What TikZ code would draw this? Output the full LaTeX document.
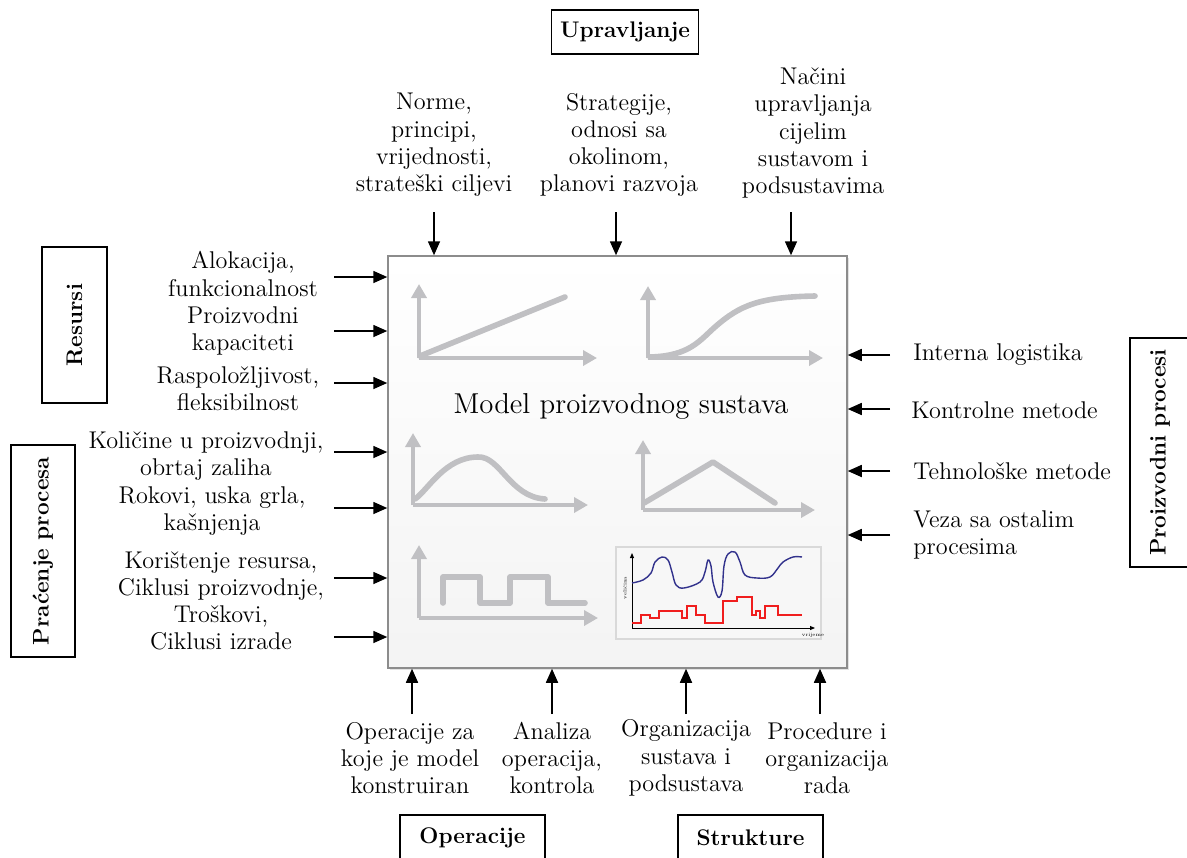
\documentclass[tikz,border=0pt]{standalone}
\usepackage{tikz}
\usetikzlibrary{arrows.meta,positioning,shadows}

\definecolor{chartgray}{RGB}{192,192,195}
\definecolor{frameline}{RGB}{140,140,140}
\definecolor{bluecurve}{RGB}{50,50,140}
\definecolor{redstep}{RGB}{240,30,30}

\tikzset{
	lbl/.style={font=\fontsize{12.1}{13.6}\selectfont, align=center, inner sep=0pt},
	rlbl/.style={font=\fontsize{12.1}{13.6}\selectfont, align=left, anchor=west, inner sep=0pt},
	headbox/.style={draw, line width=0.7pt, inner sep=0pt, font=\fontsize{11.3}{13}\bfseries\selectfont},
	modelbox/.style={draw=frameline, line width=0.75pt, top color=white, bottom color=gray!9,
		minimum width=229.5pt, minimum height=206pt, drop shadow={shadow xshift=1pt, shadow yshift=-1pt, fill=gray!45}},
	flow/.style={line width=0.8pt, -{Triangle[length=7pt,width=6pt]}},
	axis/.style={chartgray, line width=2.1pt, -{Triangle[length=7pt,width=7.5pt]}},
	curve/.style={chartgray, line width=2.8pt, line cap=round, line join=round},
	smallaxis/.style={black, line width=0.45pt, -{Triangle[length=2.5pt,width=2pt]}}
}

\begin{document}
\begin{tikzpicture}[x=0.5pt,y=-0.5pt]
	\useasboundingbox (0,0) rectangle (1187,857);
	\clip (0,0) rectangle (1187,857);

	% main model box
	\node[modelbox] (model) at (617.5,462) {};
	\node[font=\fontsize{14.4}{17}\selectfont, inner sep=0pt] (title) at (621,406) {Model proizvodnog sustava};

	% charts inside the box
	\draw[axis] (419,358) -- (419,284);
	\draw[axis] (419,358) -- (597,358);
	\draw[curve] (420,356) -- (565,297);

	\draw[axis] (648,358) -- (648,286);
	\draw[axis] (648,358) -- (823,358);
	\draw[curve] (650,357) .. controls (690,356) and (700,340) .. (715,327) .. controls (740,305) and (760,297) .. (815,296);

	\draw[axis] (413,505) -- (413,433);
	\draw[axis] (413,505) -- (588,505);
	\draw[curve] (415,499) .. controls (428,490) and (445,457) .. (478,457) .. controls (500,456) and (510,497) .. (545,499);

	\draw[axis] (643,510) -- (643,440);
	\draw[axis] (643,510) -- (815,510);
	\draw[curve] (644,503) -- (713,462) -- (775,503);

	\draw[axis] (419,618) -- (419,545);
	\draw[axis] (419,618) -- (598,618);
	\draw[curve] (443,603) -- (443,577) -- (480,577) -- (480,603) -- (510,603) -- (510,577) -- (548,577) -- (548,603) -- (585,603);

	% small time chart
	\draw[draw=gray!30, fill=gray!6, line width=1pt] (616,547) rectangle (821,639);
	\draw[smallaxis] (632,628) -- (632,553);
	\draw[smallaxis] (632,628) -- (815,628);
	\node[font=\fontsize{2.5}{3}\selectfont, rotate=90, inner sep=0pt] (ylab) at (625,588) {veličina};
	\node[font=\fontsize{2.5}{3}\selectfont, inner sep=0pt] (xlab) at (813,635) {vrijeme};
	\draw[bluecurve, line width=0.7pt] plot[smooth, tension=0.6] coordinates {(632,583) (643,580) (651,573) (655,562) (662,557) (668,560) (672,572) (676,585) (684,588) (700,582) (705,572) (708,560) (711,566) (713,582) (718,597) (722,591) (724,566) (728,554) (735,552) (740,562) (745,575) (757,578) (770,577) (778,568) (783,562) (793,557) (802,557)};
	\draw[redstep, line width=0.75pt] (632,623) -- (641,623) -- (641,615) -- (650,615) -- (650,618) -- (659,618) -- (659,611) -- (682,611) -- (682,618) -- (687,618) -- (687,606) -- (696,606) -- (696,615) -- (705,615) -- (705,623) -- (723,623) -- (723,601) -- (737,601) -- (737,597) -- (752,597) -- (752,615) -- (756,615) -- (756,611) -- (760,611) -- (760,618) -- (765,618) -- (765,606) -- (778,606) -- (778,615) -- (802,615);

	% group boxes
	\node[headbox, minimum width=73.5pt, minimum height=22pt] (uprav) at (625,32) {Upravljanje};
	\node[headbox, rotate=90, minimum width=78pt, minimum height=32.5pt] (resursi) at (74.5,325) {Resursi};
	\node[headbox, rotate=90, minimum width=106pt, minimum height=32pt] (pracenje) at (43,551) {Praćenje procesa};
	\node[headbox, rotate=90, minimum width=114.5pt, minimum height=30pt] (procesi) at (1160,452.5) {Proizvodni procesi};
	\node[headbox, minimum width=72.5pt, minimum height=23pt] (operacije) at (472.5,838) {Operacije};
	\node[headbox, minimum width=72.5pt, minimum height=23pt] (strukture) at (750.5,838) {Strukture};

	% top inputs
	\node[lbl] (norme) at (434,145) {Norme,\\principi,\\vrijednosti,\\strateški ciljevi};
	\node[lbl] (strat) at (619,145) {Strategije,\\odnosi sa\\okolinom,\\planovi razvoja};
	\node[lbl] (nacini) at (813,133) {Načini\\upravljanja\\cijelim\\sustavom i\\podsustavima};
	\coordinate (u1) at (434,212);
	\coordinate (u2) at (616,212);
	\coordinate (u3) at (791,212);
	\foreach \c in {u1,u2,u3}
		\draw[flow] (\c) -- (\c |- model.north);

	% left inputs
	\node[lbl] (alok) at (243,274) {Alokacija,\\funkcionalnost};
	\node[lbl] (kapac) at (243,331) {Proizvodni\\kapaciteti};
	\node[lbl] (raspol) at (238,389) {Raspoložljivost,\\fleksibilnost};
	\node[lbl] (kolic) at (206,456) {Količine u proizvodnji,\\obrtaj zaliha};
	\node[lbl] (rokovi) at (212,511) {Rokovi, uska grla,\\kašnjenja};
	\node[lbl] (koris) at (221,601) {Korištenje resursa,\\Ciklusi proizvodnje,\\Troškovi,\\Ciklusi izrade};
	\coordinate (l1) at (334,277);
	\coordinate (l2) at (334,331);
	\coordinate (l3) at (334,383);
	\coordinate (l4) at (334,452);
	\coordinate (l5) at (334,508);
	\coordinate (l6) at (334,578);
	\coordinate (l7) at (334,637);
	\foreach \c in {l1,l2,l3,l4,l5,l6,l7}
		\draw[flow] (\c) -- (\c -| model.west);

	% right inputs
	\node[rlbl] (intern) at (913,355) {Interna logistika};
	\node[rlbl] (kontr) at (911,410) {Kontrolne metode};
	\node[rlbl] (tehno) at (913,471) {Tehnološke metode};
	\node[rlbl] (veza) at (913,535) {Veza sa ostalim\\procesima};
	\coordinate (r1) at (890,355);
	\coordinate (r2) at (890,409);
	\coordinate (r3) at (890,471);
	\coordinate (r4) at (890,535);
	\foreach \c in {r1,r2,r3,r4}
		\draw[flow] (\c) -- (\c -| model.east);

	% bottom inputs
	\node[lbl] (oper) at (410,758) {Operacije za\\koje je model\\konstruiran};
	\node[lbl] (anal) at (552,758) {Analiza\\operacija,\\kontrola};
	\node[lbl] (organ) at (686,758) {Organizacija\\sustava i\\podsustava};
	\node[lbl] (proced) at (827,758) {Procedure i\\organizacija\\rada};
	\coordinate (b1) at (412,714);
	\coordinate (b2) at (552,714);
	\coordinate (b3) at (686,714);
	\coordinate (b4) at (820,714);
	\foreach \c in {b1,b2,b3,b4}
		\draw[flow] (\c) -- (\c |- model.south);
\end{tikzpicture}
\end{document}
